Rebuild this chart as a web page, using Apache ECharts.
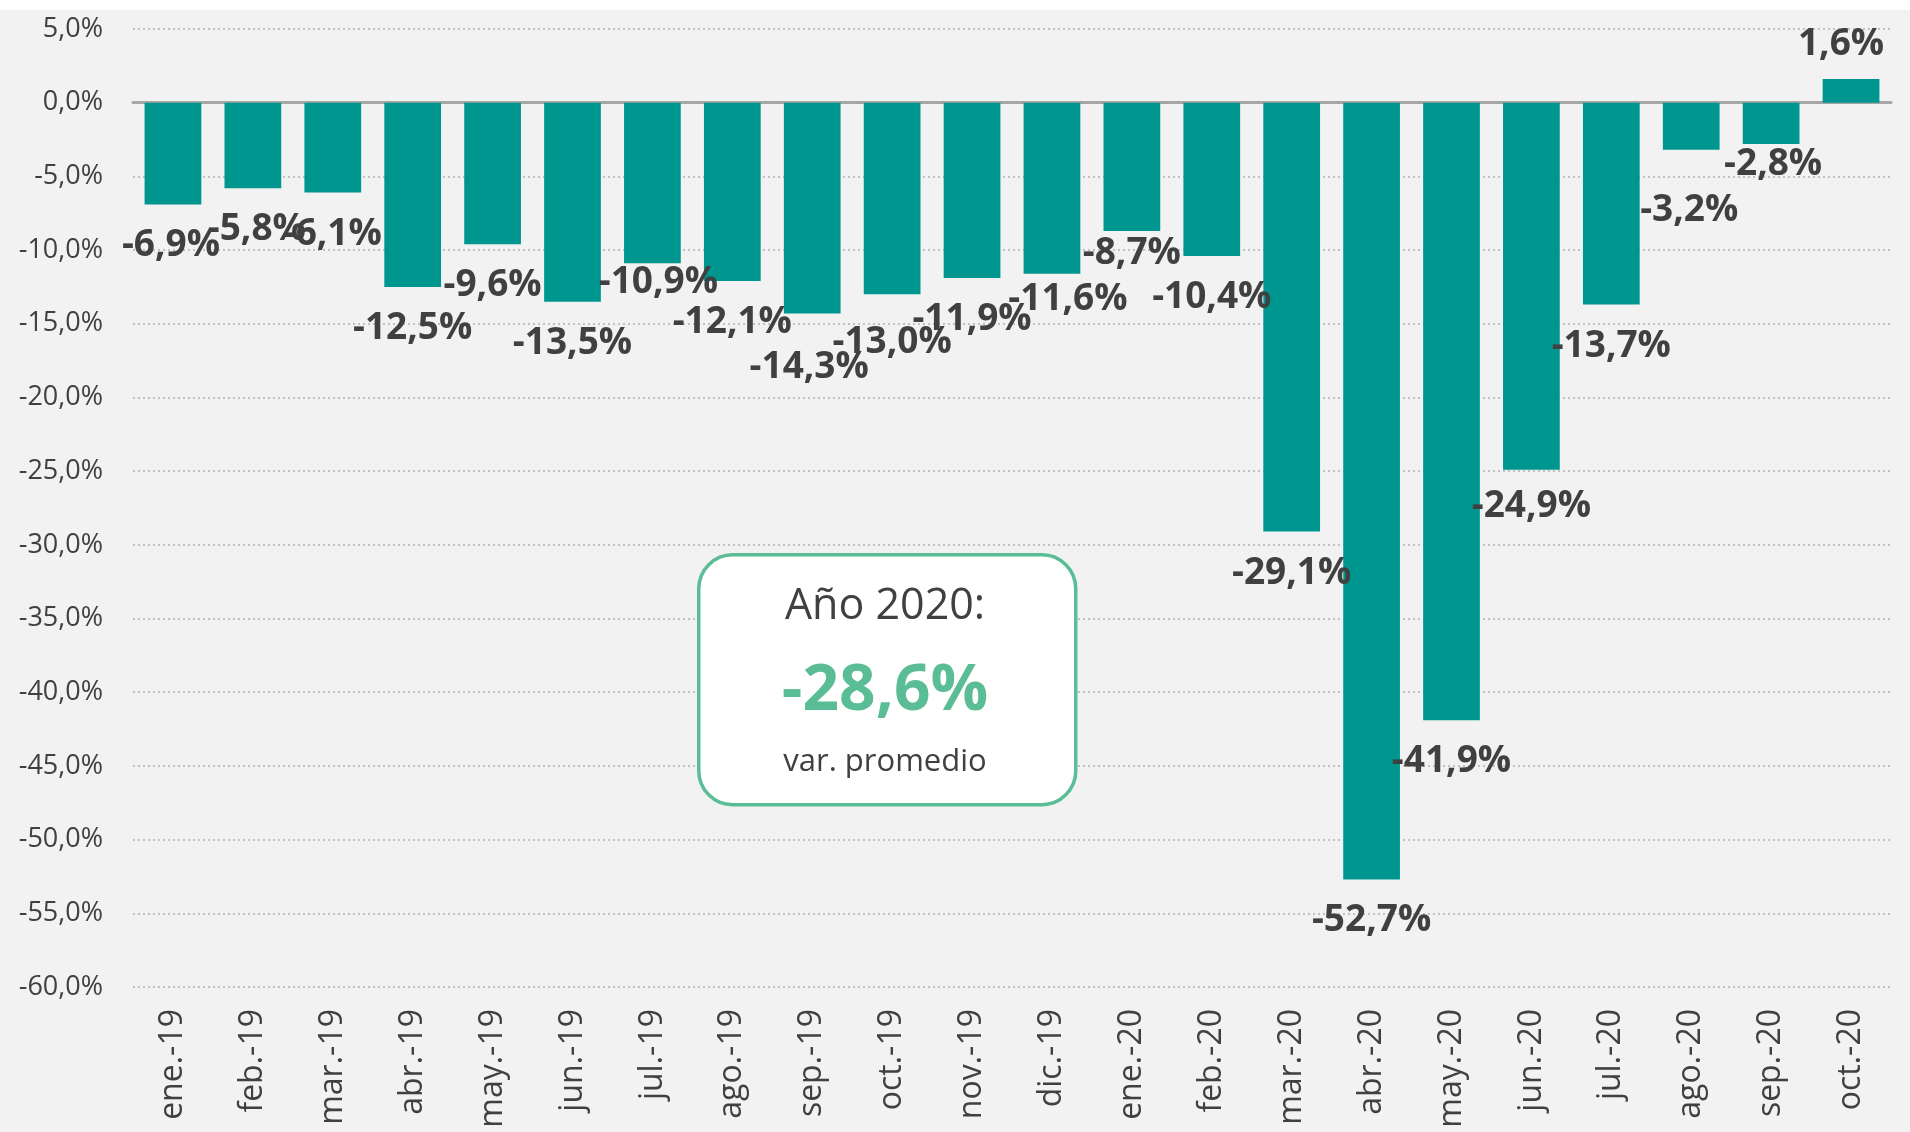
<!DOCTYPE html>
<html>
<head>
<meta charset="utf-8">
<script src="https://cdn.jsdelivr.net/npm/echarts@6/dist/echarts.min.js"></script>
<style>
html,body{margin:0;padding:0;background:#ffffff;}
#chart{position:absolute;left:0;top:10px;width:1910px;height:1122px;background:#f2f2f2;}
</style>
</head>
<body>
<div id="chart"></div>
<script>
const categories = ['ene.-19','feb.-19','mar.-19','abr.-19','may.-19','jun.-19','jul.-19','ago.-19','sep.-19','oct.-19','nov.-19','dic.-19',
  'ene.-20','feb.-20','mar.-20','abr.-20','may.-20','jun.-20','jul.-20','ago.-20','sep.-20','oct.-20'];
const values = [-6.9,-5.8,-6.1,-12.5,-9.6,-13.5,-10.9,-12.1,-14.3,-13.0,-11.9,-11.6,
  -8.7,-10.4,-29.1,-52.7,-41.9,-24.9,-13.7,-3.2,-2.8,1.6];
const yTicks = {min:-60, max:5, interval:5};
const boxTitle = 'Año 2020:';
const boxValue = '-28,6%';
const boxSubtitle = 'var. promedio';
// label nudges (px) mimicking the manual placement in the original
const labelNudge = [[-2,0],[4,0],[0,0],[0,0],[0,0],[0,0],[6,-22],[0,0],[-3,13],[0,7],[0,0],[16,-16],
  [0,-19],[0,0],[0,0],[0,0],[0,0],[0,-5],[0,0],[-2,19],[2,-21],[-10,0]];

const fmt = v => v.toFixed(1).replace('.', ',') + '%';
const chart = echarts.init(document.getElementById('chart'), null, {renderer:'canvas'});
const FONT = '"Open Sans", "Noto Sans", sans-serif';

const data = values.map((v) => ({
  value: v,
  label: {
    position: v >= 0 ? 'top' : 'bottom',
    distance: v >= 0 ? 16 : 23
  }
}));

chart.setOption({
  backgroundColor: '#f2f2f2',
  animation: false,
  grid: {left: 133, right: 19, top: 19, bottom: 145},
  xAxis: {
    type: 'category',
    data: categories,
    axisLine: {onZero: true, lineStyle: {color: '#a6a6a6', width: 3}},
    axisTick: {show: false},
    axisLabel: {
      rotate: 90, margin: 22, color: '#404040',
      fontFamily: FONT, fontSize: 32
    },
    position: 'bottom'
  },
  yAxis: {
    type: 'value',
    min: yTicks.min, max: yTicks.max, interval: yTicks.interval,
    axisLine: {show: false},
    axisTick: {show: false},
    splitLine: {lineStyle: {type: [2, 3], color: '#b0b0b0', width: 1.5}},
    axisLabel: {
      margin: 30, color: '#404040', fontFamily: FONT, fontSize: 27,
      formatter: v => v.toFixed(1).replace('.', ',') + '%'
    }
  },
  series: [{
    type: 'bar',
    data: data,
    barWidth: '71%',
    itemStyle: {color: '#009690'},
    label: {
      show: true, color: '#404040', fontFamily: FONT, fontSize: 37, fontWeight: 'bold',
      formatter: p => fmt(p.value)
    },
    labelLayout: function (params) {
      const n = labelNudge[params.dataIndex] || [0, 0];
      return {dx: n[0], dy: n[1], hideOverlap: false};
    }
  }],
  graphic: [
    {type: 'rect', left: 697, top: 543, z: 100,
     shape: {width: 377, height: 250, r: 34},
     style: {fill: '#ffffff', stroke: '#5bbd95', lineWidth: 3.5}},
    {type: 'text', z: 101, x: 885, y: 597,
     style: {text: boxTitle, fill: '#404040', font: '43px ' + FONT, align: 'center', verticalAlign: 'middle'}},
    {type: 'text', z: 101, x: 885, y: 682,
     style: {text: boxValue, fill: '#5bbd95', font: 'bold 64px ' + FONT, align: 'center', verticalAlign: 'middle'}},
    {type: 'text', z: 101, x: 885, y: 752,
     style: {text: boxSubtitle, fill: '#404040', font: '31px ' + FONT, align: 'center', verticalAlign: 'middle'}}
  ]
});
</script>
</body>
</html>
